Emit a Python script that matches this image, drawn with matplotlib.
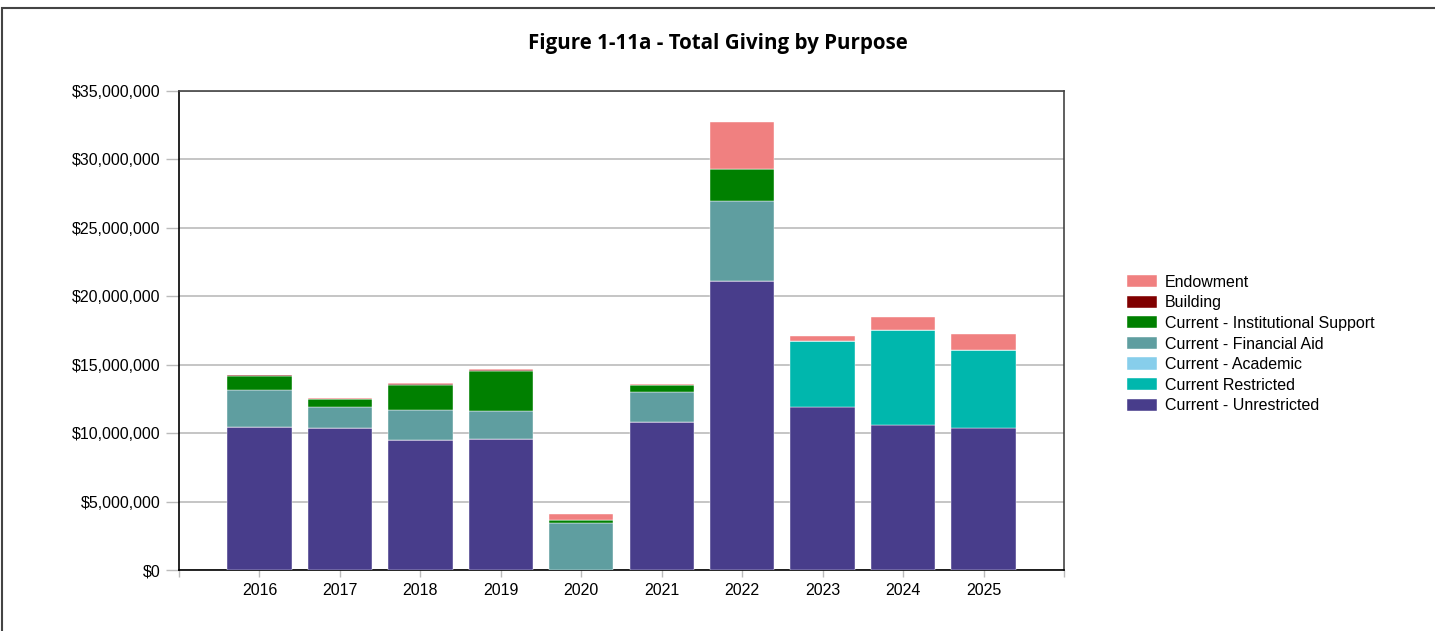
import matplotlib
matplotlib.use('Agg')
import matplotlib.pyplot as plt
from matplotlib.patches import Rectangle
from matplotlib.ticker import FuncFormatter, MultipleLocator
import numpy as np

# data (millions of dollars)
years = [2016, 2017, 2018, 2019, 2020, 2021, 2022, 2023, 2024, 2025]
unrestricted = [10.47, 10.38, 9.52, 9.57, 0.0, 10.84, 21.09, 11.93, 10.59, 10.35]
restricted = [0, 0, 0, 0, 0, 0, 0, 4.83, 6.97, 5.70]
academic = [0, 0, 0, 0, 0, 0, 0, 0, 0, 0]
financial_aid = [2.66, 1.53, 2.19, 2.05, 3.41, 2.19, 5.87, 0, 0, 0]
inst_support = [1.07, 0.58, 1.81, 2.92, 0.24, 0.47, 2.34, 0, 0, 0]
building = [0.03, 0.02, 0.05, 0.05, 0.0, 0.03, 0.0, 0, 0, 0]
endowment = [0.03, 0.06, 0.09, 0.10, 0.44, 0.06, 3.41, 0.36, 0.93, 1.19]

series = [
    ('Current - Unrestricted', unrestricted, '#483D8B'),
    ('Current Restricted', restricted, '#00B7AD'),
    ('Current - Academic', academic, '#87CEEB'),
    ('Current - Financial Aid', financial_aid, '#5F9EA0'),
    ('Current - Institutional Support', inst_support, '#008000'),
    ('Building', building, '#800000'),
    ('Endowment', endowment, '#F08080'),
]

plt.rcParams['font.family'] = ['Liberation Sans', 'DejaVu Sans']

fig = plt.figure(figsize=(14.35, 6.31), dpi=100)
ax = fig.add_axes([179 / 1435, 1 - 570 / 631, 885 / 1435, 479 / 631])

bottom = np.zeros(len(years))
handles = []
for name, vals, color in series:
    v = np.array(vals) * 1e6
    b = ax.bar(years, v, width=0.8, bottom=bottom, color=color,
               edgecolor='#FFFFFF', linewidth=0.3, label=name, zorder=3)
    handles.append(b)
    bottom += v

ax.set_xlim(2015, 2026)
ax.set_ylim(0, 35e6)
ax.yaxis.set_major_locator(MultipleLocator(5e6))
ax.yaxis.set_major_formatter(FuncFormatter(lambda x, p: '${:,.0f}'.format(x)))
ax.set_xticks(range(2015, 2027))
ax.set_xticklabels([''] + [str(y) for y in years] + [''])
ax.grid(axis='y', color='#C0C0C0', linewidth=1.3, zorder=0)
ax.tick_params(axis='both', colors='#BBBBBB', labelcolor='black',
               labelsize=11.5, width=1)
ax.tick_params(axis='x', length=5, pad=4.5)
ax.tick_params(axis='y', length=9.5, pad=4)

for s in ['top', 'right']:
    ax.spines[s].set_color('#444444')
for s in ['left', 'bottom']:
    ax.spines[s].set_color('black')
for s in ax.spines.values():
    s.set_linewidth(1.2)

fig.text(0.5, 1 - 44 / 631, 'Figure 1-11a - Total Giving by Purpose',
         ha='center', va='center', fontsize=14.8, fontweight='bold',
         family=['Open Sans', 'DejaVu Sans'])

leg = fig.legend(handles[::-1], [s[0] for s in series][::-1],
                 loc='center left', bbox_to_anchor=(1119 / 1435, 1 - 344 / 631),
                 frameon=False, fontsize=11.5, handlelength=1.9, handleheight=0.8,
                 labelspacing=0.35, handletextpad=0.45, borderpad=0)

# figure border
fig.patches.append(Rectangle((2 / 1435, -0.1), 1.1, 1.1 - 8 / 631,
                             transform=fig.transFigure, fill=False,
                             edgecolor='#444444', linewidth=1.5))

fig.savefig('out.png', dpi=100)
